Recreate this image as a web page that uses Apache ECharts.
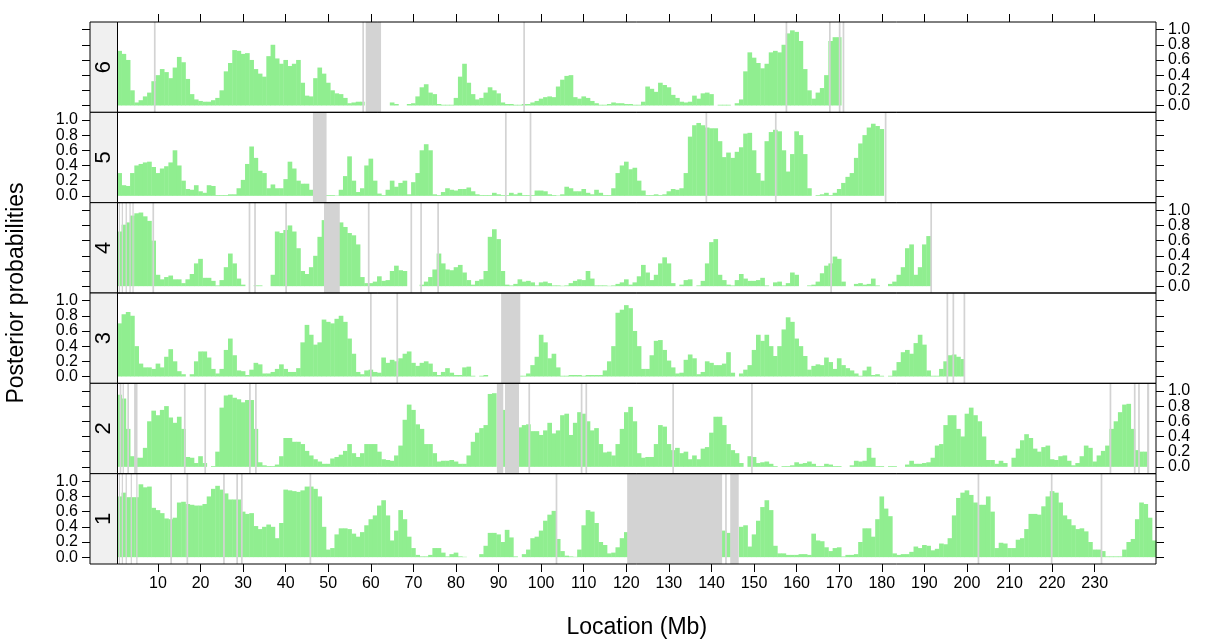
<!DOCTYPE html>
<html><head><meta charset="utf-8">
<script src="https://cdn.jsdelivr.net/npm/echarts@6/dist/echarts.min.js"></script>
<style>html,body{margin:0;padding:0;background:#fff}#c{width:1207px;height:639px}</style>
</head><body><div id="c"></div>
<script>
// Panels from top to bottom
const panelNames = ['6','5','4','3','2','1'];

// Posterior probabilities per 1-Mb bin (bin k centred on k Mb)
const chr6 = [0.72,0.68,0.6,0.2,0.04,0.07,0.12,0.17,0.32,0.4,
0.48,0.44,0.36,0.5,0.64,0.57,0.35,0.15,0.08,0.06,
0.05,0.05,0.07,0.1,0.2,0.45,0.56,0.73,0.72,0.68,
0.69,0.6,0.48,0.42,0.38,0.65,0.8,0.62,0.55,0.6,
0.52,0.55,0.6,0.3,0.13,0.12,0.36,0.5,0.42,0.3,
0.2,0.16,0.15,0.1,0.03,0.04,0.05,0.05,null,null,
null,null,null,null,0.04,0.02,null,null,0.02,0.03,
0.12,0.24,0.28,0.17,0.15,0.02,0.01,0.01,0.01,0.1,
0.38,0.55,0.3,0.15,0.08,0.1,0.17,0.24,0.2,0.16,
0.04,0.02,0.02,0.01,0.01,0.02,0.02,0.04,0.06,0.09,
0.11,0.12,0.11,0.25,0.34,0.39,0.4,0.11,0.09,0.12,
0.1,0.06,0.03,0.01,0.01,0.02,0.04,0.03,0.03,0.02,
0.02,0.01,0.01,0.05,0.25,0.22,0.18,0.3,0.27,0.24,
0.14,0.1,0.05,0.04,0.05,0.13,0.09,0.16,0.17,0.15,
null,0.01,0.01,0.01,null,0.03,0.08,0.45,0.7,0.63,
0.56,0.49,0.55,0.7,0.72,0.7,0.8,0.95,0.99,0.97,
0.85,0.48,0.2,0.09,0.17,0.23,0.4,0.85,0.9,0.9];

const chr5 = [0.3,0.14,0.13,0.3,0.4,0.42,0.44,0.45,0.38,0.3,
0.36,0.39,0.44,0.6,0.4,0.2,0.09,0.08,0.14,0.06,
0.04,0.14,0.13,0.01,0.01,0.01,0.02,0.02,0.1,0.21,
0.42,0.65,0.5,0.33,0.3,0.1,0.15,0.1,0.1,0.22,
0.45,0.36,0.2,0.16,0.16,0.08,null,null,null,0.01,
0.01,0.005,0.08,0.26,0.52,0.2,0.05,0.1,0.4,0.49,
0.2,0.03,0.01,0.08,0.2,0.12,0.17,0.2,0.02,0.18,
0.3,0.6,0.68,0.6,0.02,0.01,0.05,0.1,0.08,0.07,
0.09,0.09,0.11,0.06,0.02,0.01,0.01,0.01,0.04,0.02,
0.01,0.01,0.04,0.02,0.04,0.01,0.01,0.01,0.07,0.07,
0.06,0.02,0.01,0.005,0.02,0.12,0.1,0.06,0.06,0.09,
0.04,0.02,0.08,0.04,0.01,0.01,0.1,0.3,0.4,0.45,
0.35,0.37,0.2,0.07,0.01,0.01,0.02,0.01,0.02,0.06,
0.09,0.08,0.1,0.3,0.78,0.93,0.96,0.93,0.9,0.89,
0.89,0.72,0.51,0.57,0.5,0.58,0.64,0.82,0.83,0.6,
0.3,0.2,0.72,0.84,0.87,0.85,0.6,0.32,0.55,0.85,
0.8,0.55,0.1,0.0,0.01,0.02,0.04,0.01,0.04,0.09,
0.17,0.25,0.3,0.5,0.69,0.8,0.9,0.95,0.92,0.88];

const chr4 = [0.72,0.81,0.84,0.93,0.96,0.97,0.92,0.86,0.6,0.15,
0.09,0.12,0.14,0.09,0.09,0.04,0.09,0.16,0.3,0.36,
0.11,0.11,0.07,0.01,0.08,0.25,0.43,0.3,0.1,0.02,
0,0,0.01,0.01,0,0,0.15,0.72,0.7,0.74,
0.8,0.72,0.5,0.2,0.16,0.25,0.4,0.65,0.87,null,
null,null,0.84,0.78,0.7,0.67,0.55,0.12,0.04,0.04,
0.06,0.13,0.07,0.08,0.2,0.27,0.21,0.2,0,null,
null,0.02,0.06,0.12,0.22,0.43,0.3,0.22,0.21,0.25,
0.28,0.18,0.08,0.02,0.07,0.09,0.2,0.65,0.75,0.62,
0.2,0.02,0.01,0.03,0.09,0.06,0.07,0.05,0.01,0.05,
0.06,0.04,0.01,0.01,0.005,0.01,0.04,0.07,0.09,0.08,
0.2,0.1,0.01,0.01,0.01,0.005,0.01,0.03,0.05,0.09,
0.02,0.05,0.13,0.28,0.18,0.08,0.15,0.3,0.38,0.3,
0.04,0,0.02,0.08,0.09,0,0.01,0.07,0.3,0.58,
0.62,0.15,0.08,0.02,0.01,0.08,0.16,0.1,0.07,0.07,
0.08,0.11,0.01,0,0.05,0.06,0.01,0.04,0.18,0.15,
0,null,0.01,0.02,0.06,0.17,0.27,0.3,0.39,0.36,
0.06,0,0,0.03,0.04,0.02,0.03,0.1,0.01,0,
0,0.03,0.06,0.15,0.25,0.5,0.55,0.15,0.25,0.55,0.66];

const chr3 = [0.7,0.82,0.85,0.8,0.4,0.17,0.12,0.12,0.1,0.17,
0.12,0.26,0.36,0.2,0.07,0.03,0,0.03,0.2,0.33,
0.33,0.25,0.1,0.04,0.1,0.35,0.5,0.28,0.08,0.07,
0.02,0.09,0.18,0.16,0.04,0.04,0.06,0.1,0.16,0.1,
0.06,0.06,0.11,0.45,0.68,0.55,0.42,0.45,0.75,0.72,
0.7,0.76,0.8,0.72,0.5,0.3,0.06,0.03,0.08,0.09,
0.06,0.05,0.25,0.18,0.22,0.2,0.24,0.3,0.33,0.18,
0.14,0.18,0.2,0.17,0.06,0.02,0.06,0.11,0.05,0.02,
0.02,0.12,0.13,0.01,null,0.01,0.02,null,0,0,
null,null,null,null,0.01,0.01,0.04,0.15,0.26,0.55,
0.45,0.24,0.3,0.12,0.01,0.01,0.02,0.02,0.02,0.01,
0.02,0.02,0.02,0.02,0.08,0.2,0.4,0.84,0.88,0.94,
0.9,0.6,0.4,0.1,0.1,0.28,0.47,0.48,0.35,0.21,
0.12,0.04,0.05,0.22,0.29,0.24,0.03,0.06,0.2,0.18,
0.15,0.15,0.17,0.32,0.05,0,0.04,0.09,0.15,0.35,
0.55,0.47,0.55,0.4,0.27,0.4,0.62,0.78,0.72,0.5,
0.4,0.27,0.09,0.14,0.16,0.15,0.25,0.19,0.1,0.24,
0.15,0.11,0.08,0.04,0.01,0.08,0.13,0.02,0.03,0.01,
0,0.01,0.08,0.19,0.32,0.35,0.3,0.44,0.55,0.42,
0.08,0.01,0.01,0.1,0.2,0.28,0.29,0.26,0.23];

const chr2 = [0.95,0.9,0.5,0.14,0.12,0.12,0.25,0.6,0.74,0.68,
0.75,0.8,0.65,0.58,0.66,0.5,0.13,0.12,0.05,0.14,
0.05,0,0.01,0.2,0.78,0.94,0.95,0.91,0.89,0.85,
0.88,0.88,0.5,0.06,0.02,0.01,0.01,0.03,0.14,0.38,
0.38,0.33,0.33,0.3,0.21,0.15,0.1,0.07,0.04,0.04,
0.11,0.13,0.16,0.21,0.3,0.18,0.13,0.18,0.3,0.3,
0.3,0.2,0.1,0.09,0.08,0.15,0.28,0.62,0.82,0.75,
0.56,0.5,0.3,0.3,0.18,0.07,0.08,0.08,0.09,0.07,
0.04,0.04,0.15,0.33,0.45,0.51,0.55,0.96,0.97,null,
0.75,null,null,null,0.52,0.55,0.56,0.47,0.47,0.42,
0.48,0.58,0.44,0.48,0.68,0.7,0.42,0.58,0.72,0.7,
0.6,0.48,0.51,0.3,0.19,0.2,0.15,0.3,0.5,0.72,
0.79,0.6,0.18,0.12,0.13,0.13,0.3,0.55,0.53,0.3,
0.22,0.25,0.18,0.2,0.1,0.15,0.1,0.24,0.26,0.45,
0.66,0.66,0.55,0.3,0.22,0.18,0.05,0,0.14,0.13,
0.05,0.06,0.07,0.04,0.01,0,0.01,0.01,0.02,0.06,
0.04,0.05,0.07,0.04,0.01,0.01,0.04,0.03,0.01,0.01,
null,0,0.02,0.08,0.07,0.08,0.25,0.12,0.01,0.01,
0,0.01,0.01,0,0,0.03,0.08,0.04,0.04,0.05,
0.06,0.12,0.28,0.3,0.55,0.68,0.68,0.5,0.4,0.7,
0.78,0.68,0.6,0.4,0.09,0.09,0.04,0.08,0.05,null,
0.12,0.24,0.35,0.43,0.38,0.24,0.2,0.26,0.28,0.1,
0.09,0.14,0.15,0.08,0.02,0.05,0.14,0.28,0.25,0.07,
0.15,0.21,0.28,0.5,0.6,0.72,0.82,0.83,0.5,0.22,0.2,0.2];

const chr1 = [0.8,0.85,0.79,0.79,0.79,0.96,0.92,0.93,0.65,0.62,
0.58,0.51,0.5,0.52,0.72,0.73,0.7,0.69,0.68,0.68,
0.7,0.8,0.9,0.94,0.89,0.84,0.76,0.76,0.76,0.6,
0.57,0.58,0.41,0.37,0.4,0.43,0.4,0.25,0.45,0.89,
0.88,0.87,0.86,0.88,0.93,0.93,0.9,0.8,0.4,0.1,
0.12,0.3,0.38,0.38,0.37,0.31,0.27,0.33,0.42,0.5,
0.55,0.68,0.75,0.55,0.22,0.35,0.62,0.5,0.27,0.12,
0.03,0.01,0.01,0.03,0.12,0.12,0.06,0.01,0.04,0.06,
0.01,0.005,null,null,null,0.04,0.15,0.32,0.32,0.3,
0.2,0.36,0.26,0.01,null,0.04,0.1,0.25,0.27,0.35,
0.48,0.56,0.61,0.24,0.08,0.02,0.01,0.005,0.1,0.42,
0.62,0.6,0.45,0.2,0.16,0.05,0.06,0.13,0.25,0.33,
null,null,null,null,null,null,null,null,null,null,
null,null,null,null,null,null,null,null,null,null,
null,null,0.35,0.32,null,null,0.4,0.42,0.14,0.3,
0.48,0.66,0.75,0.62,0.15,0.05,0.05,0.03,0.03,0.03,
0.04,0.04,0.03,0.31,0.22,0.21,0.13,0.08,0.12,0.13,
0.01,0.03,0.03,0.04,0.2,0.38,0.38,0.27,0.5,0.8,
0.64,0.54,0.05,0.03,0.04,0.04,0.07,0.14,0.12,0.16,
0.15,0.09,0.11,0.18,0.17,0.25,0.55,0.78,0.85,0.88,
0.82,0.72,0.69,0.69,0.8,0.6,0.12,0.19,0.18,0.12,
0.12,0.23,0.25,0.37,0.57,0.57,0.56,0.67,0.8,0.87,
0.85,0.72,0.55,0.5,0.42,0.37,0.38,0.34,0.2,0.1,
0.1,0.08,0.01,0.01,0.01,0.01,0.1,0.2,0.24,0.5,
0.72,0.7,0.52,0.22];

// Unassembled / masked regions [start, end] in Mb
const gaps6 = [[9.05,9.45],[58.0,58.4],[58.8,62.4],[95.8,96.2],[157.4,157.8],[167.6,168.0],[169.9,170.3],[170.8,171.2]];
const gaps5 = [[46.4,49.6],[91.5,91.9],[97.3,97.7],[138.6,139.0],[154.9,155.3],[180.7,181.1]];
const gaps4 = [[0.8,1.1],[1.5,1.8],[2.4,2.7],[3.3,3.6],[4.0,4.3],[8.7,9.1],[31.3,31.7],[32.6,33.0],[39.9,40.3],[49.0,52.7],[59.3,59.7],[69.3,69.7],[71.6,72.0],[75.6,76.0],[167.9,168.3],[191.4,191.8]];
const gaps3 = [[59.8,60.2],[66.0,66.4],[90.6,95.1],[195.2,195.6],[196.6,197.0],[199.2,199.6]];
const gaps2 = [[1.0,1.4],[1.7,2.0],[2.8,3.2],[4.4,5.2],[16.1,16.5],[20.9,21.3],[31.4,31.8],[32.8,33.2],[89.6,91.1],[91.5,94.8],[97.0,97.4],[109.3,109.7],[110.4,110.8],[130.8,131.2],[149.3,149.7],[233.5,233.9],[239.2,239.6],[240.2,240.6],[242.3,242.8]];
const gaps1 = [[0.8,1.1],[1.5,1.8],[2.4,2.7],[3.6,3.9],[4.9,5.2],[12.9,13.3],[16.7,17.1],[25.3,25.7],[28.4,28.8],[29.5,29.9],[45.6,46.0],[103.4,103.8],[120.2,142.5],[143.2,143.6],[144.4,146.4],[202.5,202.9],[219.7,220.1],[231.4,231.8]];

const xTicks = [10,20,30,40,50,60,70,80,90,100,110,120,130,140,150,160,170,180,190,200,210,220,230];
const yTicks = [0,0.2,0.4,0.6,0.8,1.0];
// y labels split into two interleaved sets so that none is dropped as overlapping
const yLabelsA = [0,0.4,0.8];
const yLabelsB = [0.2,0.6,1.0];

const values = [chr6, chr5, chr4, chr3, chr2, chr1];
const gaps = [gaps6, gaps5, gaps4, gaps3, gaps2, gaps1];

const X_MIN = 0.5, X_MAX = 244.4, Y_MIN = -0.09, Y_MAX = 1.10;
const L = 117.5, R = 1156, TOP = 22, BOT = 564, STRIP = 27.5;
const H = (BOT - TOP) / 6;
const pxPerMb = (R - L) / (X_MAX - X_MIN);
const FONT = "'Liberation Sans', Arial, Helvetica, sans-serif";
const GREEN = '#90EE90', GREY = '#D3D3D3';

const grid = [], xAxis = [], yAxis = [], series = [], graphic = [];
for (let i = 0; i < 6; i++) {
  const top = TOP + i * H;
  grid.push({left: L, width: R - L, top: top, height: H, show: false});
  xAxis.push({
    gridIndex: i, type: 'value', min: X_MIN, max: X_MAX,
    position: i === 0 ? 'top' : 'bottom',
    axisLine: {show: false, onZero: false}, splitLine: {show: false},
    axisTick: {show: i === 0 || i === 5, length: 8, inside: false, customValues: xTicks, lineStyle: {color: '#000', width: 1}},
    axisLabel: {show: i === 5, customValues: xTicks, margin: 12, fontSize: 16, color: '#000', fontFamily: FONT}
  });
  const leftLabels = (i % 2 === 1);
  const base = {
    gridIndex: i, type: 'value', min: Y_MIN, max: Y_MAX,
    axisLine: {show: false, onZero: false}, splitLine: {show: false}
  };
  const tickAxis = (pos, off) => Object.assign({}, base, {position: pos, offset: off,
    axisTick: {show: true, length: 8, inside: false, customValues: yTicks, lineStyle: {color: '#000', width: 1}},
    axisLabel: {show: false}});
  const labelAxis = (pos, off, vals) => Object.assign({}, base, {position: pos, offset: off,
    axisTick: {show: false},
    axisLabel: {show: true, customValues: vals, formatter: v => Number(v).toFixed(1), margin: 12,
      fontSize: 16, color: '#000', fontFamily: FONT}});
  const lpos = leftLabels ? 'left' : 'right', loff = leftLabels ? STRIP : 0;
  yAxis.push(tickAxis('left', STRIP));           // 4i
  yAxis.push(tickAxis('right', 0));              // 4i+1
  yAxis.push(labelAxis(lpos, loff, yLabelsA));   // 4i+2
  yAxis.push(labelAxis(lpos, loff, yLabelsB));   // 4i+3
  series.push({
    type: 'bar', xAxisIndex: i, yAxisIndex: 4 * i,
    data: values[i].map((v, k) => [k + 1, v]),
    barWidth: pxPerMb + 0.4,
    itemStyle: {color: GREEN},
    silent: true, z: 2
  });
  series.push({
    type: 'custom', xAxisIndex: i, yAxisIndex: 4 * i,
    data: gaps[i], encode: {x: [0, 1]}, z: 3, silent: true, clip: true,
    renderItem: (params, api) => {
      const p1 = api.coord([api.value(0), Y_MAX]);
      const p2 = api.coord([api.value(1), Y_MIN]);
      return {type: 'rect', shape: {x: p1[0], y: p1[1], width: Math.max(p2[0] - p1[0], 1.2), height: p2[1] - p1[1]}, style: {fill: GREY}};
    }
  });
  // strip
  graphic.push({type: 'rect', z: 100, shape: {x: L - STRIP, y: top, width: STRIP, height: H}, style: {fill: '#F0F0F0', stroke: '#000', lineWidth: 1}});
  graphic.push({type: 'text', z: 101, x: L - STRIP / 2, y: top + H / 2, rotation: Math.PI / 2,
    style: {text: panelNames[i], fontSize: 22, fontFamily: FONT, fill: '#000', align: 'center', verticalAlign: 'middle'}});
  // panel frame
  graphic.push({type: 'rect', z: 100, shape: {x: L, y: top, width: R - L, height: H}, style: {fill: 'none', stroke: '#000', lineWidth: 1}});
}
graphic.push({type: 'text', z: 101, x: 17, y: (TOP + BOT) / 2, rotation: Math.PI / 2,
  style: {text: 'Posterior probabilities', fontSize: 23, fontFamily: FONT, fill: '#000', align: 'center', verticalAlign: 'middle'}});
graphic.push({type: 'text', z: 101, x: (L + R) / 2, y: 628,
  style: {text: 'Location (Mb)', fontSize: 23, fontFamily: FONT, fill: '#000', align: 'center', verticalAlign: 'middle'}});

const chart = echarts.init(document.getElementById('c'), null, {renderer: 'canvas'});
chart.setOption({animation: false, backgroundColor: '#fff', grid, xAxis, yAxis, series, graphic});
</script>
</body></html>
